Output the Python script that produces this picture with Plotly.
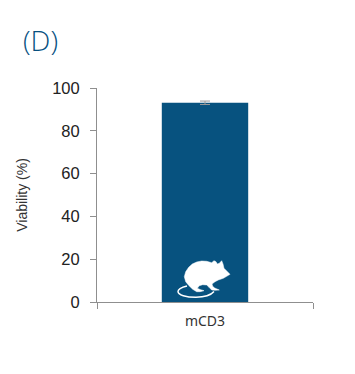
import plotly.graph_objects as go

categories = ["mCD3"]
viability = [93.1]
errors = [0.8]
y_ticks = [0, 20, 40, 60, 80, 100]

W, H = 355, 374
L, R, T, B = 96.5, 313.5, 88.0, 302.0
BLUE = "#07527f"
GREY = "#8f8f8f"

# Decorative mouse icon outline, traced at 3x from the picture region starting at (80, 240)
body = [(450, 103), (440, 109), (430, 115), (415, 120), (405, 125), (396, 132), (398, 139), (404, 144), (418, 150),
        (405, 151), (395, 150), (387, 142), (380, 135), (368, 134), (358, 137), (352, 145), (362, 149), (372, 152),
        (360, 155), (350, 155), (338, 148), (327, 137), (317, 125), (313, 110), (317, 95), (326, 82), (337, 72),
        (350, 66), (365, 63), (380, 64), (395, 68), (402, 62), (408, 65), (412, 72), (418, 70), (425, 62), (429, 72),
        (432, 85), (441, 94)]
tail = [(187, 286), (181, 287.5), (178, 289.5), (178, 291.5), (178, 295), (186, 297.2), (196, 297.2), (205, 297.2),
        (211, 295), (214, 291.5)]


def rel(x, y):
    return x - (L + R) / 2, B - y


def body_path(points):
    a = [rel(80 + p[0] / 3, 240 + p[1] / 3) for p in points]
    return "M" + " L".join(f"{x:.1f},{y:.1f}" for x, y in a) + " Z"


def tail_path(points):
    a = [rel(*p) for p in points]
    s = f"M{a[0][0]:.1f},{a[0][1]:.1f}"
    for i in range(1, len(a), 3):
        s += " C" + " ".join(f"{x:.1f},{y:.1f}" for x, y in a[i:i + 3])
    return s


fig = go.Figure(go.Bar(
    x=categories, y=viability, width=0.4, marker=dict(color=BLUE, line=dict(width=0)),
    error_y=dict(type="data", array=errors, color="#9a9a9a", thickness=1, width=5),
))

shapes = [
    dict(type="path", xref="paper", yref="paper", xsizemode="pixel", ysizemode="pixel",
         xanchor=0.5, yanchor=0, path=body_path(body), fillcolor="white", line=dict(color="white", width=0.5)),
    dict(type="path", xref="paper", yref="paper", xsizemode="pixel", ysizemode="pixel",
         xanchor=0.5, yanchor=0, path=tail_path(tail), fillcolor="rgba(0,0,0,0)", line=dict(color="white", width=1.5)),
]

fig.update_layout(
    width=W, height=H, autosize=False,
    margin=dict(l=L, r=W - R, t=T, b=H - B, pad=0),
    paper_bgcolor="white", plot_bgcolor="white", showlegend=False, shapes=shapes,
    font=dict(family="Liberation Sans", color="#222222"),
    xaxis=dict(type="category", tickson="boundaries", ticks="outside", ticklen=6, tickwidth=1, tickcolor=GREY,
               showline=True, linecolor=GREY, linewidth=1, showgrid=False, zeroline=False,
               tickfont=dict(family="Noto Sans", size=14, color="#333333"), ticklabelstandoff=6),
    yaxis=dict(range=[0, 100], tickvals=y_ticks, ticks="outside", ticklen=6, tickwidth=1, tickcolor=GREY,
               showline=True, linecolor=GREY, linewidth=1, showgrid=False, zeroline=False,
               tickfont=dict(size=16.5, color="#222222"), ticklabelstandoff=7,
               title=dict(text="Viability (%)", font=dict(size=14, color="#333333"), standoff=21)),
    annotations=[dict(text="(D)", xref="paper", yref="paper", x=(20.5 - L) / (R - L), y=(B - 39.5) / (B - T),
                      xanchor="left", yanchor="middle", showarrow=False,
                      font=dict(family="Open Sans", size=28, color="#06507f", weight=300))],
)

fig.write_html("out.html", config={"displayModeBar": False},
               post_script="document.body.style.margin='0';document.body.style.overflow='hidden';")
